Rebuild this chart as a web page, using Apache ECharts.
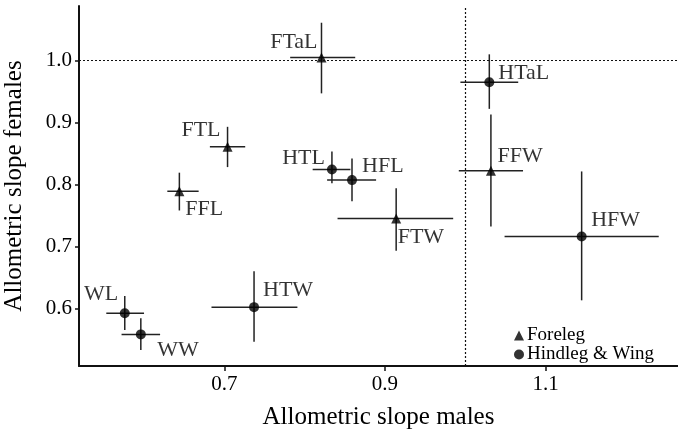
<!DOCTYPE html>
<html>
<head>
<meta charset="utf-8">
<script src="https://cdn.jsdelivr.net/npm/echarts@6/dist/echarts.min.js"></script>
<style>
html,body{margin:0;padding:0;background:#fff;}
#chart{width:678px;height:431px;}
</style>
</head>
<body>
<div id="chart"></div>
<script>
// ---- data ----
const names  = ['FTaL','FTL','FFL','FFW','FTW','HTaL','HTL','HFL','HFW','HTW','WL','WW'];
const groups = ['F','F','F','F','F','H','H','H','H','H','H','H'];
const xMale  = [0.821,0.704,0.644,1.032,0.914,1.030,0.834,0.859,1.145,0.737,0.576,0.596];
const yFem   = [1.005,0.861,0.789,0.822,0.745,0.965,0.824,0.807,0.716,0.602,0.592,0.558];
const xLow   = [0.782,0.682,0.629,0.992,0.841,0.994,0.810,0.828,1.049,0.684,0.553,0.572];
const xHigh  = [0.863,0.726,0.668,1.072,0.985,1.066,0.857,0.889,1.241,0.791,0.600,0.620];
const yLow   = [0.947,0.828,0.758,0.732,0.693,0.922,0.802,0.773,0.613,0.546,0.565,0.533];
const yHigh  = [1.061,0.893,0.819,0.913,0.794,1.010,0.853,0.842,0.821,0.660,0.620,0.584];
const xTicks = [0.7,0.9,1.1];
const yTicks = [0.6,0.7,0.8,0.9,1.0];
const legendNames = ['Foreleg','Hindleg & Wing'];

// label placement (style only)
const labelPlace = {
  FTaL:['right',[-4,-15]], FTL:['right',[-7,-16]], FFL:['left',[6,17.5]],
  HTL:['right',[-7,-11]], HFL:['left',[10,-13.5]], HTaL:['left',[9,-9]],
  FFW:['left',[6.5,-15]], FTW:['left',[1.5,18.5]], HFW:['left',[9.5,-16]],
  WL:['right',[-6.5,-19]], WW:['left',[16.5,15.5]], HTW:['left',[9,-16.5]]
};

const FONT = 'Liberation Serif, Times New Roman, serif';

function pts(g){
  const out=[];
  names.forEach((n,i)=>{
    if(groups[i]!==g) return;
    const lp = labelPlace[n];
    out.push({
      name:n, value:[xMale[i], yFem[i]],
      label:{show:true, formatter:n, position:'inside', align:lp[0], verticalAlign:'middle', offset:lp[1],
        fontFamily:FONT, fontSize:22, color:'#000'}
    });
  });
  return out;
}

const errData = names.map((n,i)=>[xMale[i], yFem[i], xLow[i], xHigh[i], yLow[i], yHigh[i]]);

const chart = echarts.init(document.getElementById('chart'));
chart.setOption({
  animation:false,
  backgroundColor:'#fff',
  grid:{left:79, right:0, top:6, bottom:65, containLabel:false, outerBoundsMode:'none'},
  xAxis:{
    type:'value', min:0.519, max:1.265,
    name:'Allometric slope males', nameLocation:'middle', nameGap:39,
    nameTextStyle:{fontFamily:FONT, fontSize:25, color:'#000'},
    axisLine:{show:true, lineStyle:{color:'#111', width:2}},
    axisTick:{show:true, customValues:xTicks, length:5, lineStyle:{color:'#111', width:1.5}},
    axisLabel:{show:true, customValues:xTicks, formatter:v=>Number(v).toFixed(1), margin:8,
      fontFamily:FONT, fontSize:21, color:'#000'},
    splitLine:{show:false}
  },
  yAxis:{
    type:'value', min:0.507, max:1.088,
    name:'Allometric slope females', nameLocation:'middle', nameGap:52,
    nameTextStyle:{fontFamily:FONT, fontSize:25, color:'#000'},
    axisLine:{show:true, lineStyle:{color:'#111', width:2}},
    axisTick:{show:true, customValues:yTicks, length:4, lineStyle:{color:'#111', width:1.5}},
    axisLabel:{show:true, customValues:yTicks, formatter:v=>Number(v).toFixed(1), margin:7,
      fontFamily:FONT, fontSize:21, color:'#000'},
    splitLine:{show:false}
  },
  legend:{
    orient:'vertical', left:509, top:321, itemWidth:10, itemHeight:10, itemGap:0,
    data:[{name:legendNames[0], icon:'triangle'},{name:legendNames[1], icon:'circle'}],
    textStyle:{fontFamily:FONT, fontSize:19, color:'#000', padding:[0,0,0,-2]}
  },
  series:[
    {
      type:'custom', name:'err', silent:true, z:1,
      renderItem:function(params, api){
        const l = api.coord([api.value(2), api.value(1)]);
        const r = api.coord([api.value(3), api.value(1)]);
        const b = api.coord([api.value(0), api.value(4)]);
        const t = api.coord([api.value(0), api.value(5)]);
        const st = {stroke:'#222', lineWidth:1.5};
        return {type:'group', children:[
          {type:'line', shape:{x1:l[0], y1:l[1], x2:r[0], y2:r[1]}, style:st},
          {type:'line', shape:{x1:b[0], y1:b[1], x2:t[0], y2:t[1]}, style:st}
        ]};
      },
      data:errData,
      markLine:{
        silent:true, symbol:'none', label:{show:false},
        lineStyle:{color:'#111', type:[2,2], width:1.2},
        data:[{xAxis:1.0},{yAxis:1.0}]
      }
    },
    {type:'scatter', name:legendNames[0], symbol:'triangle', symbolSize:10, z:3,
      itemStyle:{color:'#000'}, data:pts('F')},
    {type:'scatter', name:legendNames[1], symbol:'circle', symbolSize:10, z:3,
      itemStyle:{color:'#000'}, data:pts('H')}
  ]
});
</script>
</body>
</html>
